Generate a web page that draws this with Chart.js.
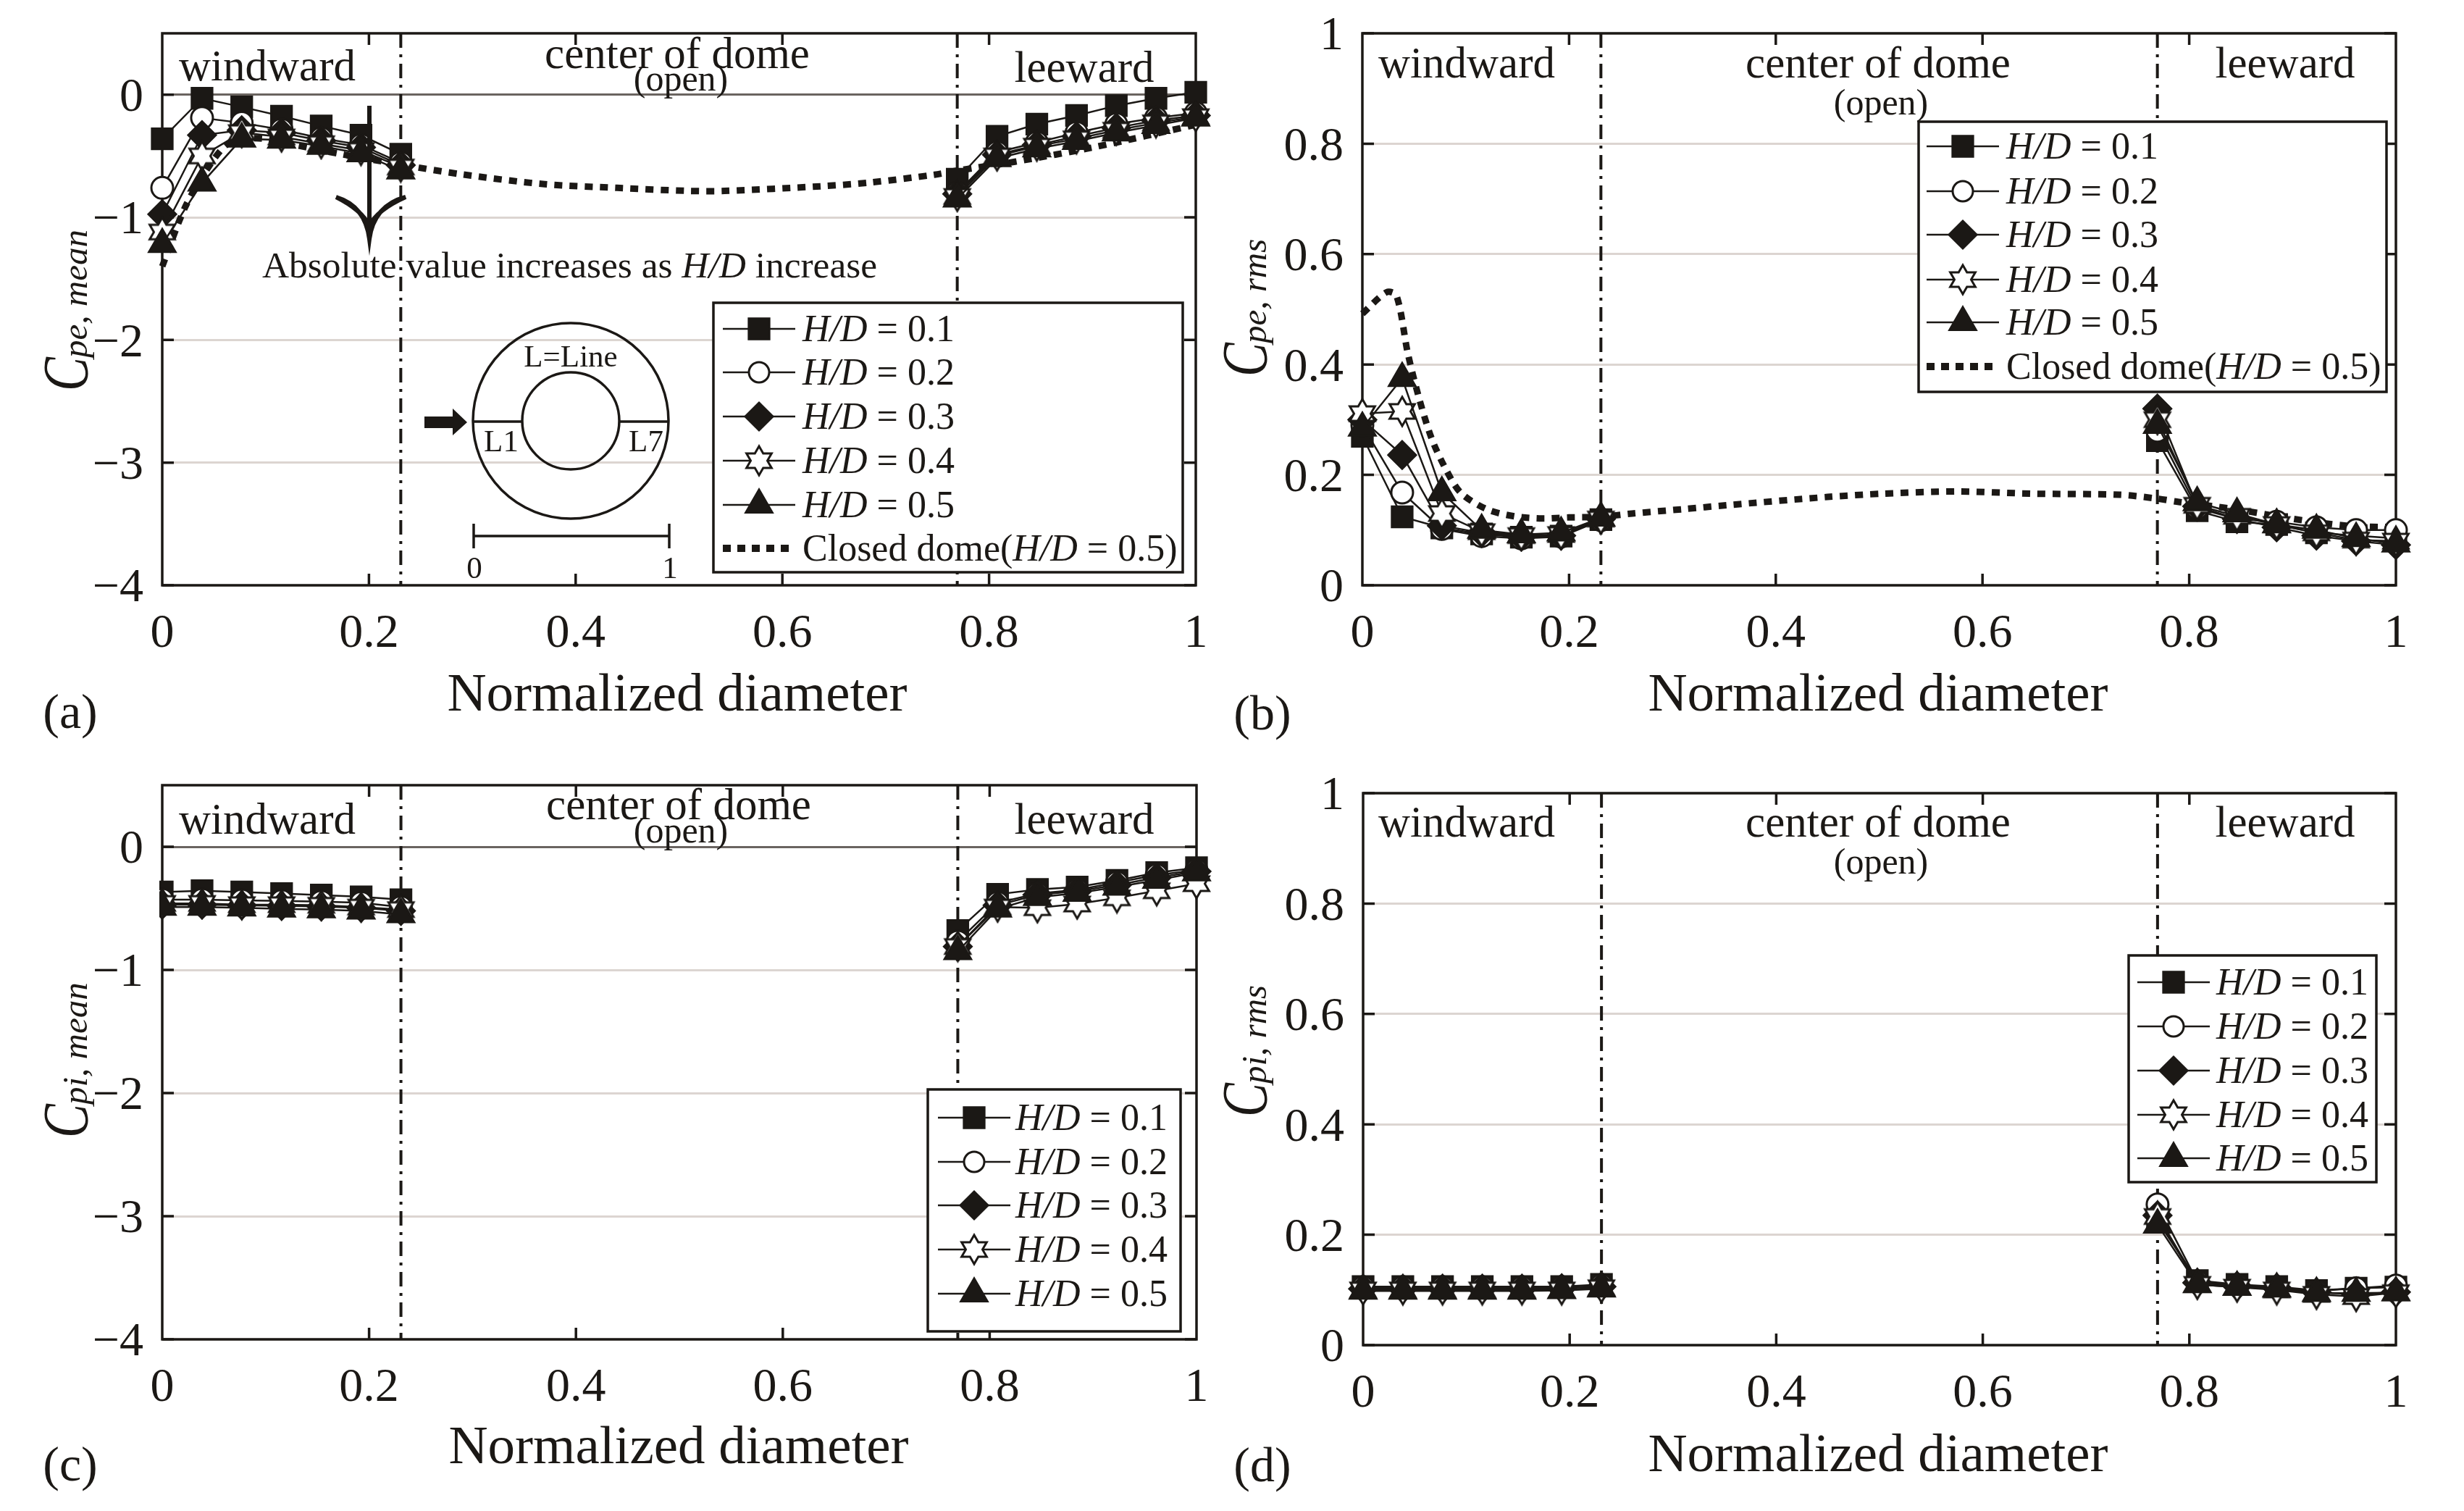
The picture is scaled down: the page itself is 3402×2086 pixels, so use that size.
<!DOCTYPE html>
<html>
<head>
<meta charset="utf-8">
<title>Pressure coefficients along normalized diameter</title>
<script src="https://cdn.jsdelivr.net/npm/chart.js@4/dist/chart.umd.js"></script>
<style>
  html, body { margin: 0; padding: 0; background: #fff; }
  canvas { position: absolute; }
</style>
</head>
<body>
<canvas id="panelA"></canvas>
<canvas id="panelB"></canvas>
<canvas id="panelC"></canvas>
<canvas id="panelD"></canvas>
<script>
// measuring stations along the diameter, nothing measured over the opening
const stations = [0, 0.0385, 0.0769, 0.1154, 0.1538, 0.1923, 0.2308, 0.5, 0.7692, 0.8077, 0.8462, 0.8846, 0.9231, 0.9615, 1];
const boundaries = [0.2308, 0.7692];
const xTicks = [0, 0.2, 0.4, 0.6, 0.8, 1];
const meanTicks = [-4, -3, -2, -1, 0];
const rmsTicks = [0, 0.2, 0.4, 0.6, 0.8, 1];
const seriesLabels = ['H/D = 0.1', 'H/D = 0.2', 'H/D = 0.3', 'H/D = 0.4', 'H/D = 0.5'];
const closedLabel = 'Closed dome(H/D = 0.5)';

// (a) external mean
const aSquare = [-0.36, -0.03, -0.10, -0.175, -0.255, -0.33, -0.485, null, -0.69, -0.34, -0.24, -0.17, -0.09, -0.03, 0.02];
const aCircle = [-0.76, -0.19, -0.23, -0.285, -0.355, -0.41, -0.555, null, -0.80, -0.47, -0.39, -0.31, -0.24, -0.19, -0.15];
const aDiamond = [-0.975, -0.33, -0.29, -0.31, -0.375, -0.43, -0.575, null, -0.81, -0.49, -0.41, -0.34, -0.27, -0.21, -0.17];
const aStar = [-1.12, -0.50, -0.31, -0.345, -0.40, -0.455, -0.59, null, -0.83, -0.50, -0.42, -0.36, -0.29, -0.23, -0.18];
const aTriangle = [-1.22, -0.72, -0.36, -0.37, -0.42, -0.48, -0.62, null, -0.85, -0.52, -0.44, -0.38, -0.31, -0.25, -0.19];
const aClosedX = [0, 0.022, 0.044, 0.062, 0.08, 0.1, 0.129, 0.17, 0.2308, 0.29, 0.37, 0.44, 0.51, 0.544, 0.637, 0.684, 0.747, 0.769, 0.825, 0.903, 1];
const aClosedY = [-1.40, -0.92, -0.60, -0.41, -0.36, -0.36, -0.41, -0.48, -0.57, -0.65, -0.73, -0.76, -0.785, -0.785, -0.747, -0.717, -0.653, -0.62, -0.547, -0.426, -0.245];

// (b) external rms
const bSquare = [0.27, 0.124, 0.104, 0.093, 0.087, 0.089, 0.119, null, 0.262, 0.135, 0.115, 0.11, 0.095, 0.09, 0.085];
const bCircle = [0.29, 0.168, 0.102, 0.089, 0.085, 0.088, 0.118, null, 0.28, 0.14, 0.12, 0.115, 0.105, 0.10, 0.10];
const bDiamond = [0.30, 0.236, 0.108, 0.095, 0.088, 0.09, 0.12, null, 0.32, 0.143, 0.12, 0.105, 0.09, 0.08, 0.073];
const bStar = [0.311, 0.315, 0.13, 0.097, 0.09, 0.092, 0.12, null, 0.30, 0.145, 0.125, 0.11, 0.095, 0.082, 0.08];
const bTriangle = [0.285, 0.375, 0.168, 0.10, 0.092, 0.095, 0.122, null, 0.29, 0.15, 0.13, 0.11, 0.10, 0.085, 0.075];
const bClosedX = [0, 0.0235, 0.033, 0.044, 0.055, 0.067, 0.08, 0.095, 0.12, 0.147, 0.174, 0.2, 0.23, 0.261, 0.311, 0.352, 0.45, 0.504, 0.575, 0.647, 0.733, 0.769, 0.79, 0.844, 0.898, 0.952, 1];
const bClosedY = [0.492, 0.531, 0.525, 0.42, 0.338, 0.266, 0.213, 0.168, 0.138, 0.125, 0.121, 0.123, 0.124, 0.13, 0.138, 0.145, 0.16, 0.166, 0.17, 0.166, 0.164, 0.157, 0.151, 0.138, 0.121, 0.108, 0.105];

// (c) internal mean
const cSquare = [-0.367, -0.357, -0.367, -0.38, -0.392, -0.406, -0.43, null, -0.68, -0.386, -0.347, -0.327, -0.273, -0.21, -0.17];
const cCircle = [-0.43, -0.43, -0.435, -0.44, -0.445, -0.455, -0.49, null, -0.77, -0.455, -0.38, -0.35, -0.29, -0.23, -0.19];
const cDiamond = [-0.47, -0.47, -0.475, -0.48, -0.485, -0.495, -0.52, null, -0.81, -0.475, -0.39, -0.36, -0.31, -0.25, -0.20];
const cStar = [-0.46, -0.46, -0.47, -0.47, -0.475, -0.49, -0.51, null, -0.81, -0.49, -0.495, -0.465, -0.415, -0.357, -0.30];
const cTriangle = [-0.49, -0.49, -0.495, -0.505, -0.51, -0.52, -0.55, null, -0.85, -0.505, -0.41, -0.376, -0.327, -0.27, -0.21];

// (d) internal rms
const dSquare = [0.106, 0.106, 0.106, 0.106, 0.106, 0.106, 0.11, null, 0.225, 0.117, 0.11, 0.106, 0.099, 0.103, 0.105];
const dCircle = [0.105, 0.105, 0.105, 0.105, 0.105, 0.105, 0.109, null, 0.255, 0.115, 0.109, 0.105, 0.098, 0.103, 0.108];
const dDiamond = [0.102, 0.102, 0.102, 0.102, 0.102, 0.103, 0.106, null, 0.235, 0.113, 0.107, 0.104, 0.096, 0.092, 0.096];
const dStar = [0.10, 0.10, 0.10, 0.10, 0.10, 0.10, 0.104, null, 0.233, 0.11, 0.105, 0.10, 0.092, 0.088, 0.095];
const dTriangle = [0.098, 0.098, 0.098, 0.098, 0.098, 0.099, 0.102, null, 0.218, 0.11, 0.105, 0.102, 0.094, 0.094, 0.095];

const INK = '#1b1815';
const GRID = '#dcd5d1';
const ZERO = '#6a6460';
const SERIF = '"Liberation Serif"';
Chart.defaults.font.family = SERIF;
Chart.defaults.color = INK;

// six pointed star, chart.js has no such point style
function makeStarPoint() {
    const c = document.createElement('canvas');
    c.width = 46; c.height = 46;
    const g = c.getContext('2d');
    g.beginPath();
    for (let i = 0; i < 12; i++) {
        const r = i % 2 ? 11.5 : 20;
        const a = i * Math.PI / 6;
        const px = 23 + r * Math.sin(a), py = 23 - r * Math.cos(a);
        if (i === 0) g.moveTo(px, py); else g.lineTo(px, py);
    }
    g.closePath();
    g.fillStyle = '#fff';
    g.fill();
    g.strokeStyle = INK;
    g.lineWidth = 3;
    g.lineJoin = 'miter';
    g.stroke();
    return c;
}

const starPoint = makeStarPoint();
const pointStyles = [
    { pointStyle: 'rect', radius: 20, fill: INK },
    { pointStyle: 'circle', radius: 15, fill: '#fff' },
    { pointStyle: 'rectRot', radius: 19, fill: INK },
    { pointStyle: starPoint, radius: 20, fill: '#fff' },
    { pointStyle: 'triangle', radius: 21, fill: INK }
];

function seriesSets(rows, clip) {
    return rows.map((vals, i) => ({
        label: seriesLabels[i],
        data: stations.map((x, k) => ({ x: x, y: vals[k] })),
        borderColor: INK,
        borderWidth: 2.5,
        pointStyle: pointStyles[i].pointStyle,
        pointRadius: pointStyles[i].radius,
        pointBackgroundColor: pointStyles[i].fill,
        pointBorderColor: INK,
        pointBorderWidth: 3,
        spanGaps: false,
        clip: clip,
        order: rows.length - i
    }));
}

function closedSet(xs, ys) {
    return {
        label: closedLabel,
        data: xs.map((x, k) => ({ x: x, y: ys[k] })),
        borderColor: INK,
        borderWidth: 9,
        borderDash: [11, 10],
        borderCapStyle: 'butt',
        pointRadius: 0,
        tension: 0.3,
        clip: false,
        order: 9
    };
}

// draws text where H/D comes out in italics
function mixedText(ctx, text, x, y, size) {
    const parts = text.split('H/D');
    let cx = x;
    parts.forEach((part, i) => {
        ctx.font = size + 'px ' + SERIF;
        ctx.fillText(part, cx, y);
        cx += ctx.measureText(part).width;
        if (i < parts.length - 1) {
            ctx.font = 'italic ' + size + 'px ' + SERIF;
            ctx.fillText('H/D', cx, y);
            cx += ctx.measureText('H/D').width;
        }
    });
}

function drawLegend(ctx, lg) {
    ctx.save();
    ctx.fillStyle = '#fff';
    ctx.strokeStyle = INK;
    ctx.lineWidth = 3.5;
    ctx.fillRect(lg.x, lg.y, lg.w, lg.h);
    ctx.strokeRect(lg.x, lg.y, lg.w, lg.h);
    lg.rows.forEach((rowY, i) => {
        ctx.strokeStyle = INK;
        ctx.fillStyle = INK;
        if (i < 5) {
            ctx.lineWidth = 2.5;
            ctx.beginPath();
            ctx.moveTo(lg.lineX, rowY);
            ctx.lineTo(lg.lineX + 100, rowY);
            ctx.stroke();
            const p = pointStyles[i];
            ctx.fillStyle = p.fill;
            ctx.lineWidth = 3;
            const size = p.pointStyle === 'rect' ? 20 : p.radius - (p.pointStyle === 'circle' ? 1 : 0);
            Chart.helpers.drawPoint(ctx, { pointStyle: p.pointStyle, radius: size, rotation: 0, borderWidth: 3 }, lg.lineX + 50, rowY);
        } else {
            ctx.lineWidth = 10;
            ctx.setLineDash([11, 9]);
            ctx.beginPath();
            ctx.moveTo(lg.lineX, rowY);
            ctx.lineTo(lg.lineX + 96, rowY);
            ctx.stroke();
            ctx.setLineDash([]);
        }
        ctx.fillStyle = INK;
        ctx.textAlign = 'left';
        ctx.textBaseline = 'middle';
        mixedText(ctx, i < 5 ? seriesLabels[i] : closedLabel, lg.textX, rowY + 3, 52);
    });
    ctx.restore();
}

// y title is drawn by hand because of the subscript
function drawYTitle(ctx, t) {
    ctx.save();
    ctx.translate(t.x, t.y);
    ctx.rotate(-Math.PI / 2);
    ctx.fillStyle = INK;
    ctx.textAlign = 'left';
    ctx.textBaseline = 'alphabetic';
    ctx.font = 'italic 49px ' + SERIF;
    ctx.fillText(t.sub, 46, 0);
    // the big C sits narrow in the original
    ctx.scale(0.8, 1);
    ctx.font = 'italic 88px ' + SERIF;
    ctx.fillText('C', 0, 0);
    ctx.restore();
}

// wind arrow, ring and scale bar inside panel (a)
function drawInset(ctx) {
    ctx.save();
    ctx.strokeStyle = INK;
    ctx.fillStyle = INK;
    ctx.textAlign = 'center';
    ctx.textBaseline = 'middle';

    ctx.lineWidth = 6;
    ctx.beginPath();
    ctx.moveTo(510, 146);
    ctx.lineTo(510, 320);
    ctx.stroke();
    ctx.beginPath();
    ctx.moveTo(464, 272);
    ctx.quadraticCurveTo(504, 284, 510, 330);
    ctx.quadraticCurveTo(516, 284, 560, 272);
    ctx.quadraticCurveTo(520, 290, 510, 312);
    ctx.quadraticCurveTo(500, 290, 464, 272);
    ctx.fill();
    ctx.stroke();

    ctx.lineWidth = 3.5;
    ctx.beginPath();
    ctx.arc(788, 581, 135, 0, Math.PI * 2);
    ctx.stroke();
    ctx.beginPath();
    ctx.arc(788, 581, 67, 0, Math.PI * 2);
    ctx.stroke();
    ctx.beginPath();
    ctx.moveTo(653, 582); ctx.lineTo(721, 582);
    ctx.moveTo(855, 582); ctx.lineTo(923, 582);
    ctx.moveTo(653, 740); ctx.lineTo(924, 740);
    ctx.moveTo(654, 723); ctx.lineTo(654, 757);
    ctx.moveTo(924, 723); ctx.lineTo(924, 757);
    ctx.stroke();

    ctx.beginPath();
    ctx.moveTo(586, 575); ctx.lineTo(625, 575); ctx.lineTo(625, 564);
    ctx.lineTo(645, 583); ctx.lineTo(625, 601); ctx.lineTo(625, 591); ctx.lineTo(586, 591);
    ctx.closePath();
    ctx.fill();

    ctx.font = '43px ' + SERIF;
    ctx.fillText('L=Line', 788, 495);
    ctx.fillText('L1', 692, 612);
    ctx.fillText('L7', 892, 612);
    ctx.fillText('0', 655, 787);
    ctx.fillText('1', 925, 787);
    ctx.textAlign = 'left';
    mixedText(ctx, 'Absolute value increases as H/D increase', 362, 369, 51.4);
    ctx.restore();
}

function makeDecor(panel) {
    return {
        id: 'decor',
        beforeDatasetsDraw(chart) {
            const ctx = chart.ctx, a = chart.chartArea;
            const sx = chart.scales.x, sy = chart.scales.y;
            ctx.save();
            ctx.strokeStyle = INK;
            ctx.lineWidth = 3.5;
            ctx.strokeRect(a.left, a.top, a.right - a.left, a.bottom - a.top);
            // ticks point inward on all four sides
            ctx.beginPath();
            xTicks.slice(1, -1).forEach(v => {
                const px = sx.getPixelForValue(v);
                ctx.moveTo(px, a.bottom); ctx.lineTo(px, a.bottom - 16);
                ctx.moveTo(px, a.top); ctx.lineTo(px, a.top + 16);
            });
            panel.yTicks.forEach(v => {
                const py = sy.getPixelForValue(v);
                ctx.moveTo(a.left, py); ctx.lineTo(a.left + 16, py);
                ctx.moveTo(a.right, py); ctx.lineTo(a.right - 16, py);
            });
            ctx.stroke();
            ctx.lineWidth = 4;
            ctx.setLineDash([20, 9, 4, 9]);
            ctx.beginPath();
            boundaries.forEach(v => {
                const px = sx.getPixelForValue(v);
                ctx.moveTo(px, a.top); ctx.lineTo(px, a.bottom);
            });
            ctx.stroke();
            ctx.restore();
        },
        afterDatasetsDraw(chart) {
            const ctx = chart.ctx;
            ctx.save();
            ctx.translate(-panel.canvas.x, -panel.canvas.y);
            ctx.fillStyle = INK;
            ctx.textAlign = 'center';
            ctx.textBaseline = 'middle';
            panel.notes.forEach(n => {
                ctx.font = n.size + 'px ' + SERIF;
                ctx.fillText(n.text, n.x, n.y + 4);
            });
            if (panel.inset) drawInset(ctx);
            drawLegend(ctx, panel.legend);
            drawYTitle(ctx, panel.title);
            ctx.restore();
        }
    };
}

function noScalePadding(scale) {
    scale.paddingTop = 0;
    scale.paddingBottom = 0;
    scale.paddingLeft = 0;
    scale.paddingRight = 0;
}

function makePanel(id, panel) {
    const el = document.getElementById(id);
    const c = panel.canvas;
    el.width = c.w; el.height = c.h;
    el.style.left = c.x + 'px';
    el.style.top = c.y + 'px';
    const plot = panel.plot;
    new Chart(el.getContext('2d'), {
        type: 'scatter',
        data: { datasets: panel.datasets.map(d => Object.assign({ showLine: true }, d)) },
        plugins: [makeDecor(panel)],
        options: {
            responsive: false,
            animation: false,
            devicePixelRatio: 1,
            layout: {
                autoPadding: false,
                padding: { top: plot.top - c.y, right: c.x + c.w - plot.right, left: 0, bottom: 0 }
            },
            plugins: { legend: { display: false }, tooltip: { enabled: false } },
            scales: {
                x: {
                    type: 'linear',
                    min: 0,
                    max: 1,
                    afterFit(scale) { scale.height = c.y + c.h - plot.bottom; noScalePadding(scale); },
                    afterBuildTicks(scale) { scale.ticks = xTicks.map(v => ({ value: v })); },
                    grid: { display: false },
                    border: { display: false },
                    ticks: {
                        font: { size: 66 }, color: INK, padding: 20, maxRotation: 0, autoSkip: false,
                        callback: v => String(v)
                    }
                },
                y: {
                    type: 'linear',
                    min: panel.yMin,
                    max: panel.yMax,
                    afterFit(scale) { scale.width = plot.left - c.x; noScalePadding(scale); },
                    afterBuildTicks(scale) { scale.ticks = panel.yTicks.map(v => ({ value: v })); },
                    grid: {
                        drawTicks: false,
                        lineWidth: 3,
                        color: ctx => ctx.tick.value === 0 && panel.yMin < 0 ? ZERO : GRID
                    },
                    border: { display: false },
                    ticks: {
                        font: { size: 66 }, color: INK, padding: 26, autoSkip: false, labelOffset: 5,
                        callback: v => String(v).replace('-', '\u2212')
                    }
                }
            }
        }
    });
}

function regionNotes(wx, wy, cx, cy, ox, oy, lx, ly, xlx, xly, tagText, tagX, tagY) {
    return [
        { text: 'windward', x: wx, y: wy, size: 61 },
        { text: 'center of dome', x: cx, y: cy, size: 61 },
        { text: '(open)', x: ox, y: oy, size: 50 },
        { text: 'leeward', x: lx, y: ly, size: 61 },
        { text: 'Normalized diameter', x: xlx, y: xly, size: 75 },
        { text: tagText, x: tagX, y: tagY, size: 68 }
    ];
}

makePanel('panelA', {
    canvas: { x: 0, y: 0, w: 1701, h: 1043 },
    plot: { left: 224, top: 46, right: 1651, bottom: 808 },
    yMin: -4, yMax: 0.5, yTicks: meanTicks,
    datasets: seriesSets([aSquare, aCircle, aDiamond, aStar, aTriangle], false).concat(closedSet(aClosedX, aClosedY)),
    notes: regionNotes(369, 91, 935, 74, 940, 108, 1497, 93, 935, 957, '(a)', 97, 983),
    inset: true,
    legend: { x: 985, y: 418, w: 648, h: 372, lineX: 998, textX: 1108, rows: [454, 514, 575, 636, 697, 757] },
    title: { x: 120, y: 540, sub: 'pe, mean' }
});

// right hand canvases start early so the big C of the y title is not cut off
makePanel('panelB', {
    canvas: { x: 1640, y: 0, w: 1762, h: 1043 },
    plot: { left: 1881, top: 46, right: 3308, bottom: 808 },
    yMin: 0, yMax: 1, yTicks: rmsTicks,
    datasets: seriesSets([bSquare, bCircle, bDiamond, bStar, bTriangle], false).concat(closedSet(bClosedX, bClosedY)),
    notes: regionNotes(2025, 87, 2593, 87, 2597, 141, 3155, 87, 2593, 957, '(b)', 1743, 985),
    legend: { x: 2649, y: 168, w: 646, h: 373, lineX: 2660, textX: 2770, rows: [202, 264, 324, 386, 445, 506] },
    title: { x: 1748, y: 520, sub: 'pe, rms' }
});

makePanel('panelC', {
    canvas: { x: 0, y: 1043, w: 1701, h: 1043 },
    plot: { left: 224, top: 1084, right: 1652, bottom: 1849 },
    yMin: -4, yMax: 0.5, yTicks: meanTicks,
    datasets: seriesSets([cSquare, cCircle, cDiamond, cStar, cTriangle], { left: 4, top: false, right: false, bottom: false }),
    notes: regionNotes(369, 1131, 937, 1111, 940, 1146, 1497, 1131, 937, 1996, '(c)', 97, 2022),
    legend: { x: 1281, y: 1504, w: 349, h: 334, lineX: 1295, textX: 1402, rows: [1543, 1604, 1664, 1725, 1786] },
    title: { x: 120, y: 1571, sub: 'pi, mean' }
});

makePanel('panelD', {
    canvas: { x: 1640, y: 1043, w: 1762, h: 1043 },
    plot: { left: 1882, top: 1095, right: 3308, bottom: 1857 },
    yMin: 0, yMax: 1, yTicks: rmsTicks,
    datasets: seriesSets([dSquare, dCircle, dDiamond, dStar, dTriangle], false),
    notes: regionNotes(2025, 1135, 2593, 1135, 2597, 1189, 3155, 1135, 2593, 2007, '(d)', 1743, 2023),
    legend: { x: 2939, y: 1319, w: 342, h: 313, lineX: 2951, textX: 3060, rows: [1356, 1417, 1478, 1539, 1599] },
    title: { x: 1748, y: 1542, sub: 'pi, rms' }
});
</script>
</body>
</html>
